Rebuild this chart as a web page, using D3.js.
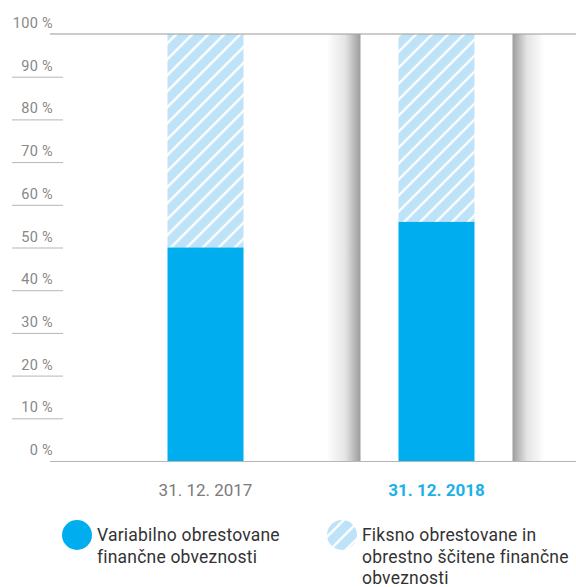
<!DOCTYPE html>
<html>
<head>
<meta charset="utf-8">
<script src="https://cdn.jsdelivr.net/npm/d3@7"></script>
<style>
	body { margin: 0; background: #fff; }
	svg { display: block; font-family: Roboto, "Noto Sans", sans-serif; }
</style>
</head>
<body>
<svg id="chart"></svg>
<script>
var categories = ["31. 12. 2017", "31. 12. 2018"],
	variableValues = [50, 56],
	fixedValues = [50, 44],
	yTicks = [0, 10, 20, 30, 40, 50, 60, 70, 80, 90, 100],
	highlighted = "31. 12. 2018",
	legendLabels = [
		["Variabilno obrestovane", "finančne obveznosti"],
		["Fiksno obrestovane in", "obrestno ščitene finančne", "obveznosti"]
	];

var width = 576,
	height = 587,
	blue = "#00aeef",
	lightBlue = "#bee2f7",
	bandWidth = 152,
	barWidth = 76;

var x = d3.scalePoint()
	.domain(categories)
	.range([90, 552])
	.padding(0.5);

var y = d3.scaleLinear()
	.domain([0, 100])
	.range([461, 34]);

var svg = d3.select("#chart")
	.attr("width", width)
	.attr("height", height);

var defs = svg.append("defs");

var pattern = defs.append("pattern")
	.attr("id", "hatch")
	.attr("patternUnits", "userSpaceOnUse")
	.attr("width", 11.3)
	.attr("height", 11.3)
	.attr("patternTransform", "rotate(45)");
pattern.append("rect")
	.attr("width", 11.3)
	.attr("height", 11.3)
	.attr("fill", lightBlue);
pattern.append("line")
	.attr("x1", 2).attr("x2", 2)
	.attr("y1", 0).attr("y2", 11.3)
	.attr("stroke", "#fff")
	.attr("stroke-width", 2.4);

// shadows at the sides of the highlighted column
function shadowGradient(id, x1, x2) {
	var g = defs.append("linearGradient")
		.attr("id", id)
		.attr("x1", x1).attr("x2", x2)
		.attr("y1", 0).attr("y2", 0);
	g.append("stop").attr("offset", "0%").attr("stop-color", "#fff");
	g.append("stop").attr("offset", "55%").attr("stop-color", "#e4e4e4");
	g.append("stop").attr("offset", "100%").attr("stop-color", "#9c9c9c");
}
shadowGradient("shadowLeft", 0, 1);
shadowGradient("shadowRight", 1, 0);

var hx = x(highlighted);
svg.append("rect")
	.attr("x", hx - bandWidth / 2 - 34)
	.attr("y", y(100))
	.attr("width", 34)
	.attr("height", y(0) - y(100))
	.attr("fill", "url(#shadowLeft)");
svg.append("rect")
	.attr("x", hx + bandWidth / 2)
	.attr("y", y(100))
	.attr("width", 32)
	.attr("height", y(0) - y(100))
	.attr("fill", "url(#shadowRight)");

// y axis labels and short tick lines
var tick = svg.append("g")
	.selectAll("g")
	.data(yTicks)
	.enter()
	.append("g");

tick.append("text")
	.attr("x", 53)
	.attr("y", function(d) { return y(d) - 6; })
	.attr("text-anchor", "end")
	.attr("fill", "#888")
	.attr("font-size", 14.5)
	.attr("letter-spacing", 0.3)
	.text(function(d) { return d + " %"; });

tick.filter(function(d) { return d > 0 && d < 100; })
	.append("line")
	.attr("x1", 12).attr("x2", 63)
	.attr("y1", function(d) { return y(d) + 0.5; })
	.attr("y2", function(d) { return y(d) + 0.5; })
	.attr("stroke", "#b5b5b5");

// bars
var bars = svg.append("g")
	.selectAll("g")
	.data(categories)
	.enter()
	.append("g");

bars.append("rect")
	.attr("x", function(d) { return x(d) - barWidth / 2; })
	.attr("width", barWidth)
	.attr("y", function(d, i) { return y(variableValues[i] + fixedValues[i]); })
	.attr("height", function(d, i) { return y(variableValues[i]) - y(variableValues[i] + fixedValues[i]); })
	.attr("fill", "url(#hatch)");

bars.append("rect")
	.attr("x", function(d) { return x(d) - barWidth / 2; })
	.attr("width", barWidth)
	.attr("y", function(d, i) { return y(variableValues[i]); })
	.attr("height", function(d, i) { return y(0) - y(variableValues[i]); })
	.attr("fill", blue);

// top and bottom lines
svg.append("line")
	.attr("x1", 50).attr("x2", width)
	.attr("y1", y(100)).attr("y2", y(100))
	.attr("stroke", "#9a9a9a")
	.attr("stroke-width", 1.2);
svg.append("line")
	.attr("x1", 50).attr("x2", width)
	.attr("y1", y(0) + 0.5).attr("y2", y(0) + 0.5)
	.attr("stroke", "#b5b5b5");

// category labels
svg.append("g")
	.selectAll("text")
	.data(categories)
	.enter()
	.append("text")
	.attr("x", function(d) { return x(d); })
	.attr("y", 496)
	.attr("text-anchor", "middle")
	.attr("font-size", 17)
	.attr("font-weight", function(d) { return d === highlighted ? 700 : 400; })
	.attr("fill", function(d) { return d === highlighted ? "#1bb1e7" : "#7a7a7a"; })
	.text(function(d) { return d; });

// legend
var legend = svg.append("g")
	.selectAll("g")
	.data(legendLabels)
	.enter()
	.append("g")
	.attr("transform", function(d, i) { return "translate(" + (i === 0 ? 77 : 342) + ",535)"; });

legend.append("circle")
	.attr("r", 15)
	.attr("fill", function(d, i) { return i === 0 ? blue : "url(#hatch)"; });

legend.append("text")
	.attr("x", 20)
	.attr("y", 6)
	.attr("font-size", 17.5)
	.attr("letter-spacing", 0.2)
	.attr("fill", "#333")
	.selectAll("tspan")
	.data(function(d) { return d; })
	.enter()
	.append("tspan")
	.attr("x", 20)
	.attr("dy", function(d, i) { return i === 0 ? 0 : 21.5; })
	.text(function(d) { return d; });
</script>
</body>
</html>
